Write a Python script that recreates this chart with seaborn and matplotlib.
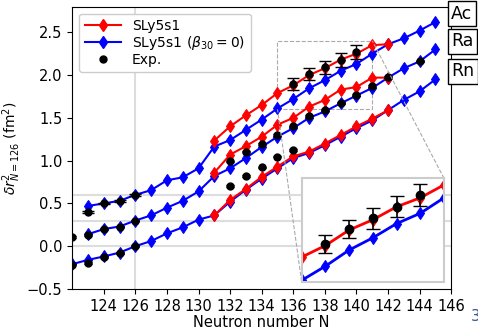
import numpy as np
import pandas as pd
import matplotlib
matplotlib.use("Agg")
import matplotlib.pyplot as plt
import seaborn as sns
from matplotlib.lines import Line2D
from mpl_toolkits.axes_grid1.inset_locator import mark_inset

# ---------------- data ----------------
# Rn (offset 0)
rn_blue_N = list(range(122, 146))
rn_blue = [-0.21, -0.16, -0.12, -0.075, 0.0, 0.06, 0.15, 0.22, 0.31, 0.36,
           0.52, 0.66, 0.79, 0.91, 1.03, 1.09, 1.18, 1.28, 1.38, 1.47,
           1.59, 1.71, 1.81, 1.95]
rn_red_N = list(range(131, 143))
rn_red = [0.36, 0.54, 0.67, 0.81, 0.93, 1.05, 1.105, 1.20, 1.30, 1.40, 1.49, 1.59]
rn_exp_N = [122, 123, 124, 125, 126, 132, 133, 134, 135, 136]
rn_exp = [-0.215, -0.195, -0.125, -0.078, 0.0, 0.70, 0.82, 0.92, 1.047, 1.125]

# Ra (offset 0.3)
ra_blue_N = list(range(123, 146))
ra_blue = [0.14, 0.20, 0.23, 0.30, 0.36, 0.45, 0.53, 0.64, 0.82, 0.91,
           1.03, 1.16, 1.28, 1.38, 1.50, 1.575, 1.67, 1.76, 1.85, 1.97,
           2.08, 2.16, 2.30]
ra_red_N = list(range(131, 143))
ra_red = [0.86, 1.07, 1.17, 1.28, 1.42, 1.50, 1.63, 1.71, 1.83, 1.86, 1.97, 1.97]
ra_exp_N = [122, 123, 124, 125, 126, 132, 133, 134, 135, 136, 137, 138, 139,
            140, 141, 142, 144]
ra_exp = [0.11, 0.13, 0.20, 0.23, 0.30, 0.99, 1.105, 1.196, 1.30, 1.40, 1.52,
          1.594, 1.67, 1.77, 1.87, 1.98, 2.16]

# Ac (offset 0.6)
ac_blue_N = list(range(123, 146))
ac_blue = [0.47, 0.50, 0.53, 0.60, 0.655, 0.77, 0.805, 0.91, 1.165, 1.24,
           1.36, 1.48, 1.61, 1.72, 1.845, 1.94, 2.05, 2.13, 2.25, 2.36,
           2.43, 2.52, 2.62]
ac_red_N = list(range(131, 143))
ac_red = [1.235, 1.40, 1.53, 1.65, 1.79, 1.88, 2.00, 2.08, 2.18, 2.25, 2.35, 2.36]
ac_exp_N = [123, 124, 125, 126, 136, 137, 138, 139, 140]
ac_exp = [0.40, 0.50, 0.53, 0.60, 1.89, 2.01, 2.09, 2.18, 2.27]
ac_exp_err = [0.01, 0.01, 0.01, 0.01, 0.07, 0.07, 0.08, 0.08, 0.085]

elements = ["Ac", "Ra", "Rn"]
element_label_y = [2.717, 2.395, 2.043]
ref_lines_y = [0.0, 0.3, 0.6]
xticks = list(range(124, 147, 2))
yticks = [-0.5, 0.0, 0.5, 1.0, 1.5, 2.0, 2.5]

# ---------------- plot ----------------
fig = plt.figure(figsize=(4.78, 3.31), dpi=100)
ax = fig.add_axes([0.151, 0.127, 0.793, 0.853])

for yv in ref_lines_y:
    ax.axhline(yv, color="#dddddd", lw=1.5, zorder=0)
ax.axvline(126, color="#dddddd", lw=1.5, zorder=0)

def draw_lines(a, lw=1.5, ms=6, sets=None):
    for N, v, col in sets:
        df = pd.DataFrame({"N": N, "v": v})
        sns.lineplot(data=df, x="N", y="v", ax=a, color=col, marker="d",
                     markersize=ms, markeredgecolor=col, lw=lw, sort=False,
                     estimator=None, legend=False)

blue_sets = [(rn_blue_N, rn_blue, "#0000ff"), (ra_blue_N, ra_blue, "#0000ff"),
             (ac_blue_N, ac_blue, "#0000ff")]
red_sets = [(rn_red_N, rn_red, "#ff0000"), (ra_red_N, ra_red, "#ff0000"),
            (ac_red_N, ac_red, "#ff0000")]
draw_lines(ax, sets=blue_sets)
draw_lines(ax, sets=red_sets)

ax.errorbar(rn_exp_N, rn_exp, yerr=0.01, fmt="o", color="black", ms=5,
            capsize=3, elinewidth=1, zorder=5)
ax.errorbar(ra_exp_N, ra_exp, yerr=0.01, fmt="o", color="black", ms=5,
            capsize=3, elinewidth=1, zorder=5)
ax.errorbar(ac_exp_N, ac_exp, yerr=ac_exp_err, fmt="o", color="black", ms=5,
            capsize=4, elinewidth=1, zorder=5)

ax.set_xlim(122, 146)
ax.set_ylim(-0.5, 2.8)
ax.set_xticks(xticks)
ax.set_yticks(yticks)
ax.tick_params(labelsize=10.5)
ax.set_xlabel("Neutron number N", fontsize=10.5, labelpad=1)
ax.set_ylabel(r"$\delta r^2_{N=126}$ (fm$^2$)", fontsize=10, labelpad=3)

for name, yy in zip(elements, element_label_y):
    ax.text(146.0, yy, name, fontsize=12.5, ha="left", va="center",
            bbox=dict(boxstyle="square,pad=0.2", fc="white", ec="black", lw=1),
            clip_on=False, zorder=10)

handles = [
    Line2D([], [], color="#ff0000", marker="d", ms=6, lw=1.5),
    Line2D([], [], color="#0000ff", marker="d", ms=6, lw=1.5),
    Line2D([], [], color="black", marker="o", ms=5, lw=0),
]
labels = ["SLy5s1", r"SLy5s1 ($\beta_{30}=0$)", "Exp."]
ax.legend(handles, labels, loc="upper left", fontsize=10, labelspacing=0.05,
          handlelength=2.6, borderaxespad=0.5, framealpha=1)

# inset
axins = fig.add_axes([0.631, 0.149, 0.298, 0.312])
draw_lines(axins, lw=2, ms=6, sets=[(ac_blue_N, ac_blue, "#0000ff")])
draw_lines(axins, lw=2, ms=6, sets=[(ac_red_N, ac_red, "#ff0000")])
axins.errorbar(ac_exp_N, ac_exp, yerr=ac_exp_err, fmt="o", color="black", ms=6,
               capsize=5, elinewidth=1.2, zorder=5)
axins.set_xlim(135, 141)
axins.set_ylim(1.6, 2.4)
axins.set_xticks([])
axins.set_yticks([])
axins.set_xlabel("")
axins.set_ylabel("")
for s in axins.spines.values():
    s.set_color("#cccccc")
    s.set_linewidth(1.5)
mark_inset(ax, axins, loc1=1, loc2=3, fc="none", ec="#aaaaaa", ls="--", lw=0.8)

fig.text(0.985, 0.02, "3", color="#34539a", fontsize=11, ha="left", va="bottom")

fig.savefig("out.png", dpi=100)
